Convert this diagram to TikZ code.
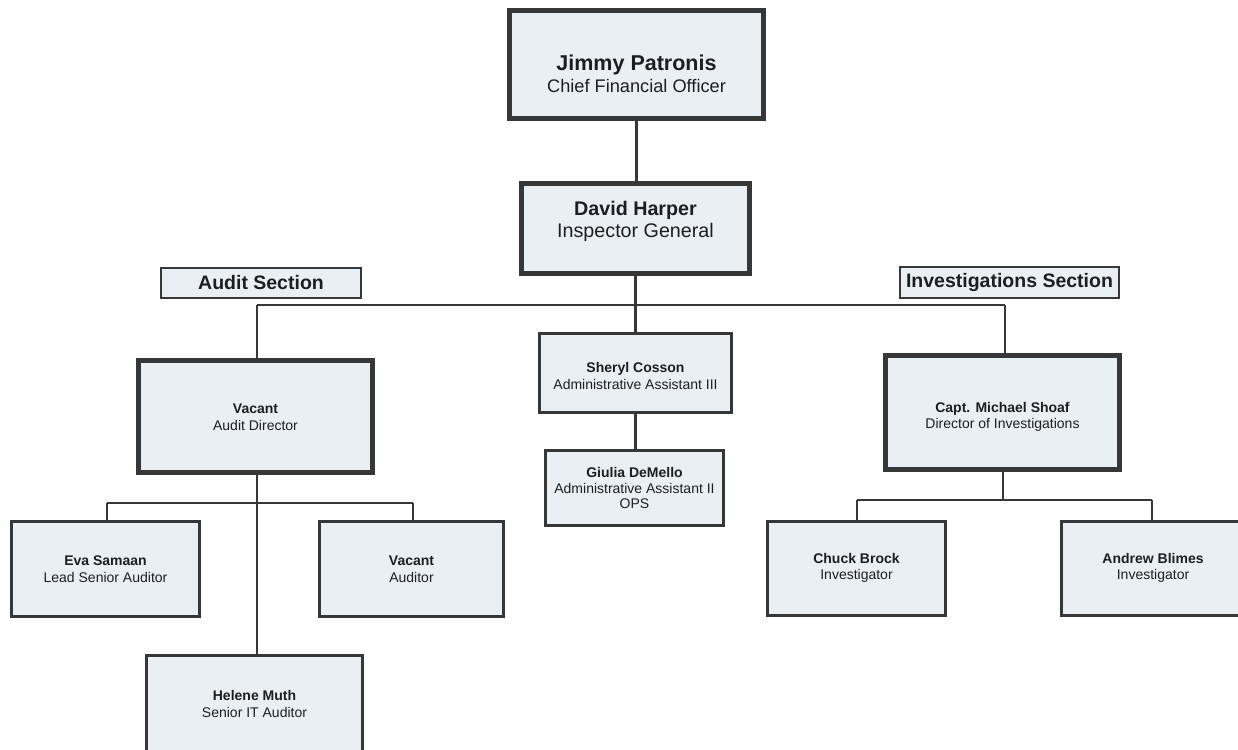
\documentclass[tikz,border=0pt]{standalone}
\usepackage{fontspec}
\setmainfont{Liberation Sans}
\definecolor{boxfill}{RGB}{233,240,245}
\definecolor{boxline}{RGB}{55,55,55}
\definecolor{txt}{RGB}{30,30,30}
\tikzset{
  orgbox/.style={draw=boxline, fill=boxfill, inner sep=0pt, anchor=center},
  thickbox/.style={orgbox, line width=5pt},
  medbox/.style={orgbox, line width=3pt},
  secbox/.style={orgbox, line width=2.5pt},
  txtnode/.style={text=txt, align=center, inner sep=0pt, font=\fontsize{14}{16.5}\selectfont},
  conn/.style={draw=boxline, line width=2.5pt},
}
\newcommand{\nm}[1]{\textbf{#1}}
\begin{document}
\begin{tikzpicture}[x=1pt,y=-1pt]
\useasboundingbox (0,0) rectangle (1238,749);
\coordinate (busL) at (257,305);
\coordinate (busR) at (1005,305);
\coordinate (abus) at (257,503);
\coordinate (abL) at (107,503);
\coordinate (abR) at (413,503);
\coordinate (ibus) at (1003,500);
\coordinate (ibL) at (857,500);
\coordinate (ibR) at (1152,500);

% boxes
\node[thickbox, minimum width=254, minimum height=108] (jimmy) at (636.5,64.5) {};
\node[thickbox, minimum width=228, minimum height=90] (harper) at (635.5,228.5) {};
\node[secbox, minimum width=200, minimum height=30] (audsec) at (261,283) {};
\node[secbox, minimum width=219, minimum height=31] (invsec) at (1009.5,282.5) {};
\node[thickbox, minimum width=234, minimum height=112] (auddir) at (255.5,416.5) {};
\node[medbox, minimum width=192, minimum height=79] (sheryl) at (635.5,373) {};
\node[medbox, minimum width=178, minimum height=75] (giulia) at (634.5,488) {};
\node[thickbox, minimum width=234, minimum height=114] (shoaf) at (1002.5,412.5) {};
\node[medbox, minimum width=188, minimum height=95] (eva) at (105.5,569) {};
\node[medbox, minimum width=184, minimum height=95] (vacaud) at (411.5,569) {};
\node[medbox, minimum width=216, minimum height=110] (helene) at (254.5,710) {};
\node[medbox, minimum width=178, minimum height=94] (chuck) at (856.5,568.5) {};
\node[medbox, minimum width=183, minimum height=94] (andrew) at (1153,568.5) {};

% connectors
\draw[conn] (jimmy.south) -- (harper.north -| jimmy.south);
\draw[conn] (harper.south) -- (sheryl.north);
\draw[conn] (busL) -- (busR);
\draw[conn] (busL) -- (auddir.north -| busL);
\draw[conn] (busR) -- (shoaf.north -| busR);
\draw[conn] (sheryl.south) -- (giulia.north -| sheryl.south);
\draw[conn] (auddir.south -| abus) -- (helene.north -| abus);
\draw[conn] (abL) -- (abR);
\draw[conn] (abL) -- (eva.north -| abL);
\draw[conn] (abR) -- (vacaud.north -| abR);
\draw[conn] (shoaf.south -| ibus) -- (ibus);
\draw[conn] (ibL) -- (ibR);
\draw[conn] (ibL) -- (chuck.north -| ibL);
\draw[conn] (ibR) -- (andrew.north -| ibR);

% texts
\node[txtnode, font=\fontsize{18.2}{22}\selectfont] (jimmyt) at (636.5,74) {{\fontsize{21.5}{22}\selectfont\nm{Jimmy Patronis}}\\Chief Financial Officer};
\node[txtnode, font=\fontsize{19.7}{22}\selectfont] (harpert) at (635.5,221) {\nm{David Harper}\\Inspector General};
\node[txtnode, font=\fontsize{19.5}{22}\selectfont] (audsect) at (audsec) {\nm{Audit Section}};
\node[txtnode, font=\fontsize{19.5}{22}\selectfont] (invsect) at (invsec) {\nm{Investigations Section}};
\node[txtnode] (auddirt) at (255.5,417) {\nm{Vacant}\\Audit Director};
\node[txtnode] (sherylt) at (635.5,376) {\nm{Sheryl Cosson}\\Administrative Assistant III};
\node[txtnode, font=\fontsize{14}{15.5}\selectfont] (giuliat) at (634.5,488) {\nm{Giulia DeMello}\\Administrative Assistant II\\OPS};
\node[txtnode] (shoaft) at (1002.5,417) {\nm{Capt. Michael Shoaf}\\Director of Investigations};
\node[txtnode] (evat) at (105.5,569) {\nm{Eva Samaan}\\Lead Senior Auditor};
\node[txtnode] (vacaudt) at (411.5,569) {\nm{Vacant}\\Auditor};
\node[txtnode] (helenet) at (254.5,704) {\nm{Helene Muth}\\Senior IT Auditor};
\node[txtnode] (chuckt) at (856.5,568) {\nm{Chuck Brock}\\Investigator};
\node[txtnode] (andrewt) at (1153,568) {\nm{Andrew Blimes}\\Investigator};
\end{tikzpicture}
\end{document}
